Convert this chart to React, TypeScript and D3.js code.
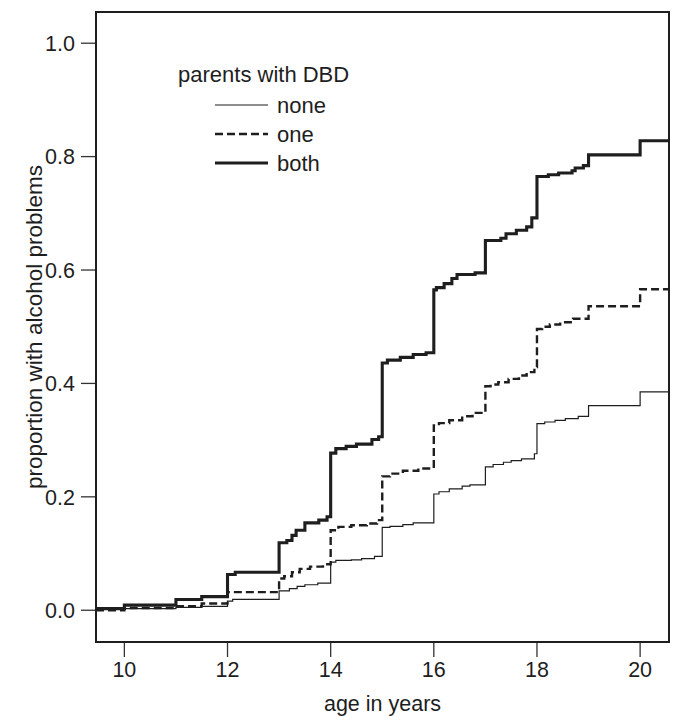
import { useEffect, useRef } from 'react'
import * as d3 from 'd3'

// cumulative proportion with alcohol problems, step points [age, proportion]
const noneSteps: [number, number][] = [
  [9.45, 0.001], [10, 0.003], [11, 0.005], [11.5, 0.007], [12, 0.016], [12.1, 0.019],
  [13, 0.034], [13.2, 0.038], [13.35, 0.042], [13.5, 0.045], [13.75, 0.048],
  [14, 0.085], [14.1, 0.088], [14.4, 0.089], [14.6, 0.091], [14.85, 0.095],
  [15, 0.146], [15.15, 0.148], [15.4, 0.151], [15.6, 0.154],
  [16, 0.205], [16.1, 0.209], [16.3, 0.214], [16.55, 0.219], [16.7, 0.221],
  [17, 0.253], [17.15, 0.257], [17.35, 0.261], [17.5, 0.264], [17.7, 0.267], [17.95, 0.276],
  [18, 0.329], [18.15, 0.332], [18.35, 0.335], [18.55, 0.338], [18.8, 0.342],
  [19, 0.361], [20, 0.385],
]

const oneSteps: [number, number][] = [
  [9.45, 0.0], [10, 0.004], [11, 0.007], [11.5, 0.012], [12, 0.032],
  [13, 0.056], [13.1, 0.06], [13.25, 0.067], [13.4, 0.073], [13.6, 0.077], [13.85, 0.081],
  [14, 0.141], [14.15, 0.147], [14.4, 0.15], [14.7, 0.153], [14.9, 0.159],
  [15, 0.236], [15.15, 0.241], [15.4, 0.246], [15.7, 0.25],
  [16, 0.326], [16.1, 0.33], [16.3, 0.335], [16.55, 0.342], [16.75, 0.348],
  [17, 0.395], [17.1, 0.398], [17.25, 0.402], [17.45, 0.408], [17.65, 0.414], [17.8, 0.42], [17.95, 0.429],
  [18, 0.496], [18.1, 0.5], [18.25, 0.504], [18.45, 0.508], [18.7, 0.514],
  [19, 0.536], [20, 0.566],
]

const bothSteps: [number, number][] = [
  [9.45, 0.003], [10, 0.009], [11, 0.019], [11.5, 0.024], [12, 0.063], [12.15, 0.067],
  [13, 0.119], [13.15, 0.123], [13.25, 0.132], [13.33, 0.141], [13.5, 0.154], [13.77, 0.159], [13.93, 0.165],
  [14, 0.277], [14.1, 0.285], [14.3, 0.289], [14.5, 0.293], [14.8, 0.301], [14.93, 0.306],
  [15, 0.436], [15.1, 0.441], [15.35, 0.446], [15.6, 0.451], [15.85, 0.454],
  [16, 0.565], [16.05, 0.569], [16.2, 0.576], [16.35, 0.585], [16.45, 0.592], [16.8, 0.595],
  [17, 0.652], [17.3, 0.656], [17.4, 0.664], [17.6, 0.67], [17.8, 0.676], [17.9, 0.692],
  [18, 0.765], [18.22, 0.768], [18.42, 0.771], [18.68, 0.775], [18.74, 0.78], [18.9, 0.784],
  [19, 0.803], [20, 0.828],
]

const xTicks = [10, 12, 14, 16, 18, 20]
const yTicks = [0, 0.2, 0.4, 0.6, 0.8, 1.0]
const legendTitle = 'parents with DBD'
const seriesNames = ['none', 'one', 'both']

const FONT = '"Liberation Sans", Arial, Helvetica, sans-serif'
const INK = '#1e1e1e'

const App = () => {
  const svgRef = useRef<SVGSVGElement>(null)

  useEffect(() => {
    if (!svgRef.current) return
    const svg = d3.select(svgRef.current)
    svg.selectAll('*').remove()

    const W = 676
    const H = 716
    const margin = { top: 12, right: 7, bottom: 74, left: 96 }

    const xDomain: [number, number] = [9.45, 20.56]
    const x = d3.scaleLinear().domain(xDomain).range([margin.left, W - margin.right])
    const y = d3.scaleLinear().domain([-0.056, 1.055]).range([H - margin.bottom, margin.top])

    svg.append('rect').attr('width', W).attr('height', H).attr('fill', '#fff')

    svg.append('defs').append('clipPath').attr('id', 'plot-clip')
      .append('rect')
      .attr('x', x.range()[0]).attr('y', y.range()[1])
      .attr('width', x.range()[1] - x.range()[0])
      .attr('height', y.range()[0] - y.range()[1])

    // y axis ticks + labels
    const yAxis = svg.append('g')
    yTicks.forEach(t => {
      yAxis.append('line')
        .attr('x1', margin.left - 15).attr('x2', margin.left)
        .attr('y1', y(t)).attr('y2', y(t))
        .attr('stroke', '#333').attr('stroke-width', 1.3)
      yAxis.append('text')
        .attr('x', margin.left - 21).attr('y', y(t) + 7.8)
        .attr('text-anchor', 'end')
        .style('font-family', FONT).style('font-size', '21.5px').attr('fill', INK)
        .text(d3.format('.1f')(t))
    })

    // x axis ticks + labels
    const xAxis = svg.append('g')
    xTicks.forEach(t => {
      xAxis.append('line')
        .attr('x1', x(t)).attr('x2', x(t))
        .attr('y1', H - margin.bottom).attr('y2', H - margin.bottom + 15)
        .attr('stroke', '#333').attr('stroke-width', 1.3)
      xAxis.append('text')
        .attr('x', x(t)).attr('y', 677)
        .attr('text-anchor', 'middle')
        .style('font-family', FONT).style('font-size', '21.5px').attr('fill', INK)
        .text(t)
    })

    // axis titles
    svg.append('text')
      .attr('x', (x.range()[0] + x.range()[1]) / 2).attr('y', 711)
      .attr('text-anchor', 'middle')
      .style('font-family', FONT).style('font-size', '21.5px').attr('fill', INK)
      .text('age in years')

    svg.append('text')
      .attr('transform', `translate(42,${(y.range()[0] + y.range()[1]) / 2}) rotate(-90)`)
      .attr('text-anchor', 'middle')
      .style('font-family', FONT).style('font-size', '22.5px').attr('fill', INK)
      .text('proportion with alcohol problems')

    // step curves
    const line = d3.line<[number, number]>()
      .x(d => x(d[0]))
      .y(d => y(d[1]))
      .curve(d3.curveStepAfter)

    const styles = [
      { width: 1.2, dash: null },
      { width: 2.4, dash: '8 4' },
      { width: 3.1, dash: null },
    ]
    const allSeries = [noneSteps, oneSteps, bothSteps]

    const curves = svg.append('g').attr('clip-path', 'url(#plot-clip)')
    allSeries.forEach((s, i) => {
      const pts: [number, number][] = [...s, [xDomain[1], s[s.length - 1][1]]]
      curves.append('path')
        .datum(pts)
        .attr('d', line)
        .attr('fill', 'none')
        .attr('stroke', INK)
        .attr('stroke-width', styles[i].width)
        .attr('stroke-dasharray', styles[i].dash)
        .attr('stroke-linejoin', 'miter')
    })

    // plot box
    svg.append('rect')
      .attr('x', x.range()[0]).attr('y', y.range()[1])
      .attr('width', x.range()[1] - x.range()[0])
      .attr('height', y.range()[0] - y.range()[1])
      .attr('fill', 'none').attr('stroke', INK).attr('stroke-width', 2)

    // legend
    const legend = svg.append('g')
    legend.append('text')
      .attr('x', 178).attr('y', 82)
      .style('font-family', FONT).style('font-size', '22px').attr('fill', INK)
      .text(legendTitle)
    seriesNames.forEach((name, i) => {
      const ly = 105 + i * 29
      legend.append('line')
        .attr('x1', 215).attr('x2', 268)
        .attr('y1', ly).attr('y2', ly)
        .attr('stroke', INK)
        .attr('stroke-width', styles[i].width)
        .attr('stroke-dasharray', styles[i].dash)
      legend.append('text')
        .attr('x', 277).attr('y', ly + 7.5)
        .style('font-family', FONT).style('font-size', '22px').attr('fill', INK)
        .text(name)
    })
  }, [])

  return (
    <div style={{ position: 'absolute', left: 0, top: 0 }}>
      <svg ref={svgRef} width={676} height={716} style={{ display: 'block' }} />
    </div>
  )
}

export default App
